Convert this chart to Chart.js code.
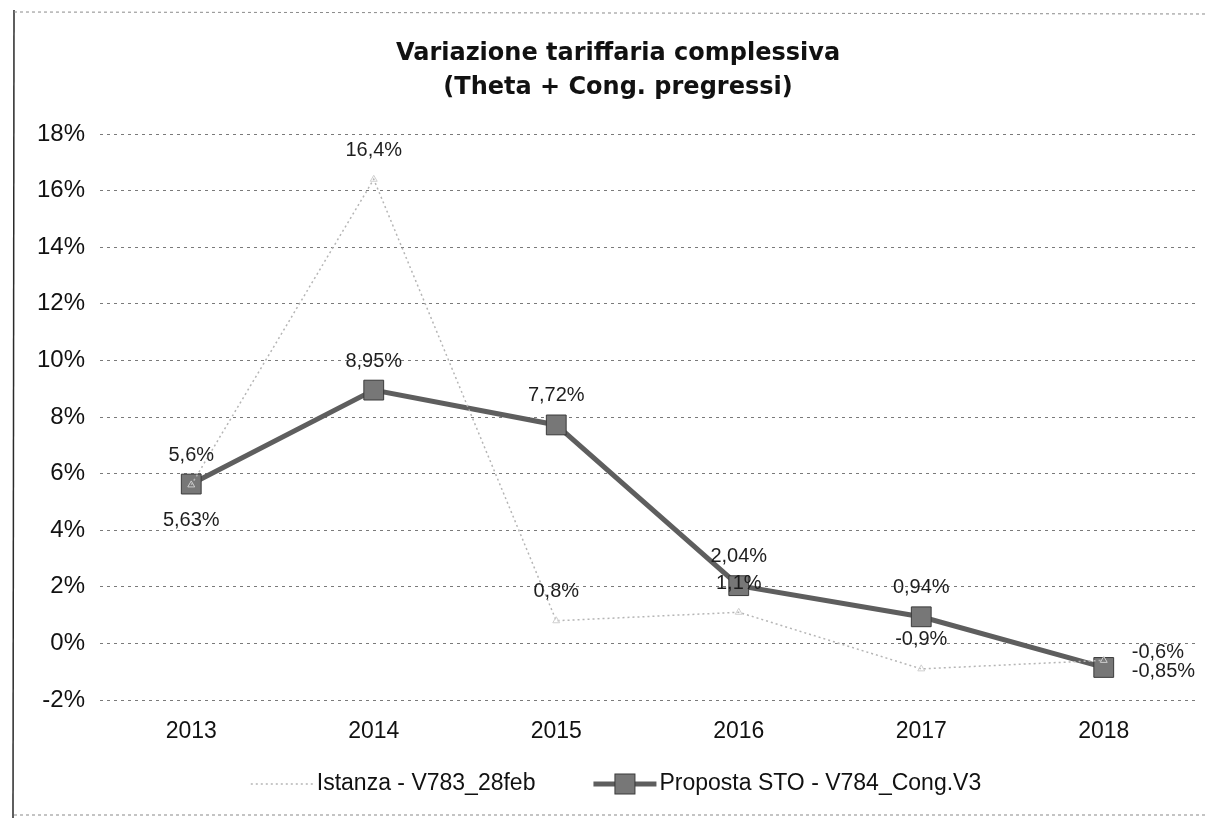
<!DOCTYPE html>
<html>
<head>
<meta charset="utf-8">
<script src="https://cdn.jsdelivr.net/npm/chart.js@4.4.0/dist/chart.umd.min.js"></script>
<style>
  html, body { margin: 0; padding: 0; background: #ffffff; }
  #wrap { width: 1212px; height: 820px; position: relative; background: #ffffff; }
</style>
</head>
<body>
<div id="wrap"><canvas id="c" width="1212" height="820"></canvas></div>
<script>
// ---- data ----
const categories = ['2013', '2014', '2015', '2016', '2017', '2018'];
const istanzaValues = [5.6, 16.4, 0.8, 1.1, -0.9, -0.6];
const propostaValues = [5.63, 8.95, 7.72, 2.04, 0.94, -0.85];
const seriesNames = ['Istanza - V783_28feb', 'Proposta STO - V784_Cong.V3'];
const titleLines = ['Variazione tariffaria complessiva', '(Theta + Cong. pregressi)'];
const yMin = -2, yMax = 18, yStep = 2;

// ---- label styling (positions relative to points) ----
const labelDecimals = [1, 2];
const labelPositions = [
  ['above', 'above', 'above', 'above', 'above', 'right'],
  ['below', 'above', 'above', 'above', 'above', 'right']
];

const FONT = '"Liberation Sans", Arial, Helvetica, sans-serif';
const propColor = '#5e5e5e';
const istColor = '#b5b5b5';

const decor = {
  id: 'decor',
  beforeDraw(chart) {
    const ctx = chart.ctx;
    ctx.save();
    ctx.fillStyle = '#ffffff';
    ctx.fillRect(0, 0, chart.width, chart.height);
    // frame of the scanned page
    ctx.strokeStyle = '#2a2a2a';
    ctx.lineWidth = 1.5;
    ctx.beginPath(); ctx.moveTo(14, 10); ctx.lineTo(13, 818); ctx.stroke();
    ctx.strokeStyle = '#8a8a8a';
    ctx.lineWidth = 1;
    ctx.setLineDash([3, 3]);
    ctx.beginPath(); ctx.moveTo(14, 12); ctx.lineTo(1205, 14); ctx.stroke();
    ctx.beginPath(); ctx.moveTo(14, 815); ctx.lineTo(1205, 815); ctx.stroke();
    ctx.restore();
  },
  afterDatasetsDraw(chart) {
    const ctx = chart.ctx;
    ctx.save();
    ctx.font = '20px ' + FONT;
    ctx.fillStyle = '#1e1e1e';
    chart.data.datasets.forEach((ds, i) => {
      const meta = chart.getDatasetMeta(i);
      meta.data.forEach((pt, j) => {
        const v = ds.data[j];
        const txt = v.toFixed(labelDecimals[i]).replace('.', ',') + '%';
        const pos = labelPositions[i][j];
        ctx.textBaseline = 'middle';
        if (pos === 'above') {
          ctx.textAlign = 'center';
          ctx.fillText(txt, pt.x, pt.y - 29);
        } else if (pos === 'below') {
          ctx.textAlign = 'center';
          ctx.fillText(txt, pt.x, pt.y + 36);
        } else {
          ctx.textAlign = 'left';
          ctx.fillText(txt, pt.x + 28, pt.y - (i === 0 ? 8 : -4));
        }
      });
    });
    ctx.restore();
  },
  afterDraw(chart) {
    const ctx = chart.ctx;
    ctx.save();
    // title
    ctx.fillStyle = '#111111';
    ctx.font = 'bold 24px "DejaVu Sans", ' + FONT;
    ctx.textAlign = 'center';
    ctx.textBaseline = 'middle';
    const cx = chart.width / 2 + 12;
    ctx.fillText(titleLines[0], cx, 54);
    ctx.fillText(titleLines[1], cx, 88);

    // legend
    ctx.font = '23px ' + FONT;
    const wI = ctx.measureText(seriesNames[0]).width;
    const wP = ctx.measureText(seriesNames[1]).width;
    const mk = 63, gap = 3, sp = 58;
    const total = mk + gap + wI + sp + mk + gap + wP;
    let x = chart.width / 2 + 10 - total / 2;
    const y = 784;
    // Istanza marker (faint dotted line)
    ctx.strokeStyle = istColor;
    ctx.lineWidth = 1.5;
    ctx.setLineDash([2, 3]);
    ctx.beginPath(); ctx.moveTo(x, y); ctx.lineTo(x + mk, y); ctx.stroke();
    ctx.setLineDash([]);
    x += mk + gap;
    ctx.fillStyle = '#111111';
    ctx.textAlign = 'left';
    ctx.fillText(seriesNames[0], x, y);
    x += wI + sp;
    // Proposta marker
    ctx.strokeStyle = propColor;
    ctx.lineWidth = 5;
    ctx.beginPath(); ctx.moveTo(x, y); ctx.lineTo(x + mk, y); ctx.stroke();
    ctx.fillStyle = '#777777';
    ctx.strokeStyle = '#3a3a3a';
    ctx.lineWidth = 1;
    ctx.fillRect(x + mk / 2 - 10, y - 10, 20, 20);
    ctx.strokeRect(x + mk / 2 - 10, y - 10, 20, 20);
    x += mk + gap;
    ctx.fillStyle = '#111111';
    ctx.fillText(seriesNames[1], x, y);
    ctx.restore();
  }
};

new Chart(document.getElementById('c'), {
  type: 'line',
  data: {
    labels: categories,
    datasets: [
      {
        label: seriesNames[0],
        data: istanzaValues,
        borderColor: istColor,
        borderWidth: 1.5,
        borderDash: [2, 3],
        pointStyle: 'triangle',
        pointRadius: 4,
        pointBackgroundColor: 'rgba(0,0,0,0)',
        pointBorderColor: '#cfcfcf',
        pointBorderWidth: 1,
        tension: 0,
        fill: false
      },
      {
        label: seriesNames[1],
        data: propostaValues,
        borderColor: propColor,
        borderWidth: 5,
        pointStyle: 'rect',
        pointRadius: 14,
        pointBackgroundColor: '#777777',
        pointBorderColor: '#3a3a3a',
        pointBorderWidth: 1,
        tension: 0,
        fill: false
      }
    ]
  },
  options: {
    responsive: false,
    animation: false,
    devicePixelRatio: 1,
    layout: { padding: { top: 134, left: 0, right: 17, bottom: 0 } },
    plugins: {
      legend: { display: false },
      title: { display: false },
      tooltip: { enabled: false }
    },
    scales: {
      x: {
        offset: true,
        grid: { display: false, drawTicks: false },
        border: { display: false },
        ticks: { color: '#111111', font: { family: FONT, size: 23 }, padding: 18, maxRotation: 0 },
        afterFit(scale) { scale.height = 120; }
      },
      y: {
        min: yMin,
        max: yMax,
        grid: { color: '#7a7a7a', lineWidth: 1, drawTicks: false },
        border: { display: false, dash: [3, 4] },
        ticks: {
          stepSize: yStep,
          color: '#111111',
          font: { family: FONT, size: 24 },
          padding: 15,
          callback: v => v + '%'
        },
        afterFit(scale) { scale.width = 100; }
      }
    }
  },
  plugins: [decor]
});
</script>
</body>
</html>
